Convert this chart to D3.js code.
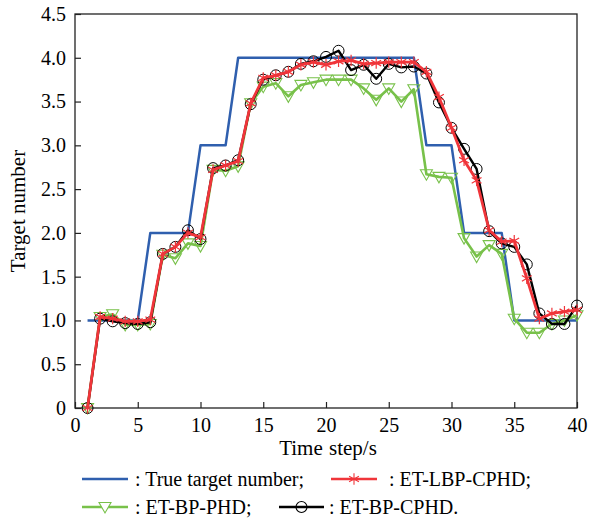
<!DOCTYPE html>
<html>
<head>
<meta charset="utf-8">
<script src="https://cdn.jsdelivr.net/npm/d3@7"></script>
<style>
  body { margin: 0; background: #fff; }
  svg text { font-family: "Liberation Serif", "Times New Roman", serif; fill: #000; }
</style>
</head>
<body>
<svg id="chart" width="597" height="520"></svg>
<script>
const timeSteps = d3.range(1, 41);
const trueNumber = [1,1,1,1,1,2,2,2,2,3,3,3,4,4,4,4,4,4,4,4,4,4,4,4,4,4,4,3,3,3,2,2,2,2,1,1,1,1,1,1];
const etLbpCphd = [0,1.04,1.02,0.99,0.99,1.01,1.76,1.84,2.00,1.95,2.72,2.77,2.82,3.48,3.77,3.80,3.84,3.92,3.95,3.92,3.96,3.97,3.93,3.94,3.95,3.95,3.95,3.84,3.55,3.20,2.83,2.60,2.03,1.90,1.91,1.48,1.02,1.08,1.10,1.12];
const etBpPhd = [0,1.04,1.07,0.95,0.95,0.96,1.75,1.71,1.88,1.85,2.72,2.71,2.76,3.48,3.67,3.71,3.56,3.69,3.72,3.75,3.75,3.75,3.65,3.52,3.65,3.50,3.64,2.67,2.64,2.63,1.94,1.73,1.86,1.76,1.02,0.86,0.86,0.96,1.00,1.06];
const etBpCphd = [0,1.02,0.99,0.97,0.96,0.98,1.76,1.84,2.03,1.93,2.74,2.77,2.83,3.47,3.75,3.80,3.84,3.93,3.96,4.01,4.08,3.86,3.92,3.76,3.93,3.89,3.90,3.82,3.49,3.20,2.96,2.73,2.02,1.88,1.84,1.64,1.08,0.96,0.96,1.17];
const xTicks = [0,5,10,15,20,25,30,35,40];
const yTicks = [0,0.5,1,1.5,2,2.5,3,3.5,4,4.5];
const xTitle = "Time step/s";
const yTitle = "Target number";

const svg = d3.select("#chart");
const L = 75, R = 577, T = 14, B = 408;
const x = d3.scaleLinear().domain([0, 40]).range([L, R]);
const y = d3.scaleLinear().domain([0, 4.5]).range([B, T]);

const COL = { blue: "#2f5fae", red: "#f0353a", green: "#78c14a", black: "#000" };

// frame
svg.append("rect").attr("x", L).attr("y", T).attr("width", R - L).attr("height", B - T)
  .attr("fill", "none").attr("stroke", "#222").attr("stroke-width", 1.3);

// axes with inward ticks
const xAxis = d3.axisBottom(x).tickValues(xTicks).tickSizeInner(-6).tickSizeOuter(0).tickPadding(10).tickFormat(d3.format("d"));
const gx = svg.append("g").attr("transform", `translate(0,${B})`).call(xAxis);
const yAxis = d3.axisLeft(y).tickValues(yTicks).tickSizeInner(-6).tickSizeOuter(0).tickPadding(9)
  .tickFormat(d => d === 0 ? "0" : d3.format(".1f")(d));
const gy = svg.append("g").attr("transform", `translate(${L},0)`).call(yAxis);
[gx, gy].forEach(g => {
  g.select(".domain").remove();
  g.selectAll(".tick line").attr("stroke", "#222").attr("stroke-width", 1.2);
  g.selectAll(".tick text").style("font-size", "20px").style("font-family", "Liberation Serif");
});

svg.append("text").attr("x", (L + R) / 2 + 2).attr("y", 455).attr("text-anchor", "middle")
  .style("font-size", "21px").style("word-spacing", "1px").text(xTitle);
svg.append("text").attr("transform", `translate(25,${(T + B) / 2}) rotate(-90)`).attr("text-anchor", "middle")
  .style("font-size", "21px").text(yTitle);

const line = d3.line().x((d, i) => x(timeSteps[i])).y(d => y(d));

const plot = svg.append("g");
function drawSeries(data, color, width, marker) {
  plot.append("path").datum(data).attr("d", line).attr("fill", "none")
    .attr("stroke", color).attr("stroke-width", width).attr("stroke-linejoin", "round");
  if (marker) {
    plot.append("g").selectAll("path").data(data).join("path")
      .attr("transform", (d, i) => `translate(${x(timeSteps[i])},${y(d)})`)
      .attr("d", marker.path).attr("fill", "none").attr("stroke", color).attr("stroke-width", marker.sw);
  }
}
const triPath = "M-6,-4.5L6,-4.5L0,6Z";
const circPath = d3.symbol().type(d3.symbolCircle).size(Math.PI * 30)();
const starPath = d3.symbol().type(d3.symbolAsterisk).size(90)();

drawSeries(trueNumber, COL.blue, 2.5, null);
drawSeries(etBpPhd, COL.green, 2.6, { path: triPath, sw: 1.1 });
drawSeries(etBpCphd, COL.black, 2.4, { path: circPath, sw: 1 });
drawSeries(etLbpCphd, COL.red, 2.8, { path: starPath, sw: 1.2 });

// legend
const leg = svg.append("g");
const items = [
  { label: ": True target number;", color: COL.blue, x1: 82, x2: 128, tx: 135, y: 479, m: null },
  { label: ": ET-LBP-CPHD;", color: COL.red, x1: 331, x2: 377, tx: 389, y: 479, m: starPath },
  { label: ": ET-BP-PHD;", color: COL.green, x1: 82, x2: 128, tx: 135, y: 507, m: triPath },
  { label: ": ET-BP-CPHD.", color: COL.black, x1: 279, x2: 324, tx: 329, y: 507, m: circPath }
];
items.forEach(it => {
  leg.append("line").attr("x1", it.x1).attr("x2", it.x2).attr("y1", it.y).attr("y2", it.y)
    .attr("stroke", it.color).attr("stroke-width", 2.6);
  if (it.m) leg.append("path").attr("d", it.m).attr("transform", `translate(${(it.x1 + it.x2) / 2},${it.y})`)
    .attr("fill", it.m === triPath ? "#fff" : "none").attr("stroke", it.color).attr("stroke-width", 1.1);
  leg.append("text").attr("x", it.tx).attr("y", it.y).attr("dy", "0.33em").style("font-size", "20px").text(it.label);
});
</script>
</body>
</html>
